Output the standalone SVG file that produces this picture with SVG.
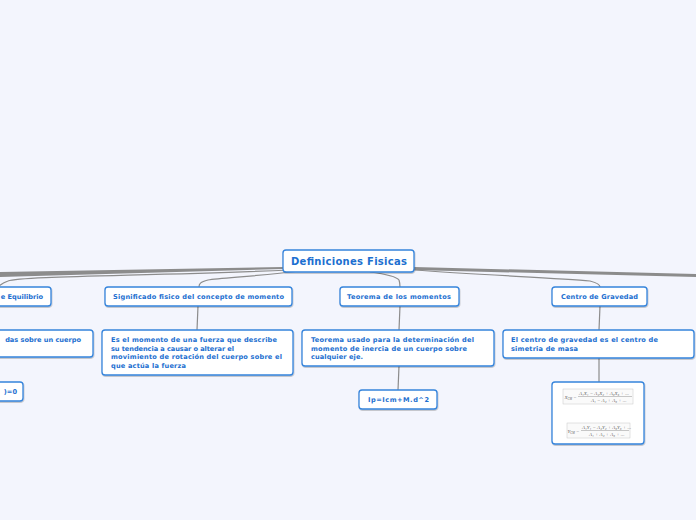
<svg xmlns="http://www.w3.org/2000/svg" width="696" height="520" viewBox="0 0 696 520">
<defs>
<filter id="sh" x="-10%" y="-10%" width="120%" height="140%"><feDropShadow dx="0.5" dy="1" stdDeviation="0.7" flood-color="#000" flood-opacity="0.25"/></filter>
<style>
.box{fill:#fff;stroke:#3584dc;stroke-width:1.3;filter:url(#sh)}
.t{font-family:"DejaVu Sans",Verdana,sans-serif;font-weight:bold;font-size:6.6px;fill:#1c6fd0}
.root{font-family:"DejaVu Sans",Verdana,sans-serif;font-weight:bold;font-size:10px;fill:#1c6fd0}
.c{fill:none;stroke:#8c8c8c;stroke-width:1.2}
.f{font-family:"Liberation Serif",serif;font-style:italic;font-size:5px;fill:#666}
.fb{fill:#fafafa;stroke:#c8c8c8;stroke-width:0.5}
</style>
</defs>
<rect width="696" height="520" fill="#f3f5fd"/>
<g id="connectors">
<path d="M283,267 L0,272 L0,277 L283,269 Z" fill="#8c8c8c"/>
<path d="M414,267 L696,274 L696,277 L414,270 Z" fill="#8c8c8c"/>
<path class="c" d="M290,270 C150,276 20,276 8,281 C2,283 0,285 -2,287"/>
<path class="c" d="M300,271 C260,276 220,278 208,280 C200,282 199,284 199,287"/>
<path class="c" d="M370,272 C385,274 396,276 399,280 C400,283 400,285 400,287"/>
<path class="c" d="M414,270 C480,275 560,278 590,281 C598,283 600,285 600,287"/>
<path class="c" d="M198,306 L197,330"/>
<path class="c" d="M400,306 L399,330"/>
<path class="c" d="M399,366 L398,390"/>
<path class="c" d="M600,306 L599,330"/>
<path class="c" d="M599,358 L599,382"/>
</g>
<g id="root">
<rect class="box" x="283" y="250" width="131" height="22" rx="3"/>
<text class="root" x="349" y="265" text-anchor="middle" textLength="116">Definiciones Fisicas</text>
</g>
<g id="n-equilibrio">
<rect class="box" x="-20" y="287" width="71" height="19" rx="3"/>
<text class="t" x="43" y="299" text-anchor="end">e Equilibrio</text>
</g>
<g id="n-significado">
<rect class="box" x="105" y="287" width="187" height="19" rx="3"/>
<text class="t" x="113" y="299" textLength="171">Significado fisico del concepto de momento</text>
</g>
<g id="n-teorema">
<rect class="box" x="340" y="287" width="119" height="19" rx="3"/>
<text class="t" x="347" y="299" textLength="104">Teorema de los momentos</text>
</g>
<g id="n-centro">
<rect class="box" x="552" y="287" width="95" height="19" rx="3"/>
<text class="t" x="561" y="299" textLength="77">Centro de Gravedad</text>
</g>
<g id="n-fuerzas">
<rect class="box" x="-20" y="330" width="113" height="27" rx="3"/>
<text class="t" x="81" y="342" text-anchor="end">das sobre un cuerpo</text>
</g>
<g id="n-es-el-momento">
<rect class="box" x="102" y="330" width="191" height="45" rx="3"/>
<text class="t" x="111" y="342" textLength="166">Es el momento de una fuerza que describe</text>
<text class="t" x="111" y="351" textLength="123">su tendencia a causar o alterar el</text>
<text class="t" x="111" y="359" textLength="171">movimiento de rotación del cuerpo sobre el</text>
<text class="t" x="111" y="368" textLength="75">que actúa la fuerza</text>
</g>
<g id="n-teorema-usado">
<rect class="box" x="302" y="330" width="192" height="36" rx="3"/>
<text class="t" x="311" y="342" textLength="163">Teorema usado para la determinación del</text>
<text class="t" x="311" y="351" textLength="156">momento de inercia de un cuerpo sobre</text>
<text class="t" x="311" y="359" textLength="52">cualquier eje.</text>
</g>
<g id="n-el-centro">
<rect class="box" x="503" y="330" width="191" height="28" rx="3"/>
<text class="t" x="511" y="342" textLength="147">El centro de gravedad es el centro de</text>
<text class="t" x="511" y="351" textLength="67">simetria de masa</text>
</g>
<g id="n-suma">
<rect class="box" x="-20" y="382" width="43" height="19" rx="3"/>
<text class="t" x="17" y="394" text-anchor="end">)=0</text>
</g>
<g id="n-ip">
<rect class="box" x="359" y="390" width="78" height="19" rx="3"/>
<text class="t" x="368" y="402" textLength="61">Ip=Icm+M.d^2</text>
</g>
<g id="n-formula">
<rect class="box" x="552" y="382" width="92" height="62" rx="3"/>
<rect class="fb" x="563" y="389" width="70" height="15"/>
<text class="f" x="564.5" y="398.5">X<tspan font-size="3" dy="1.2">CM</tspan><tspan dy="-1.2"> =</tspan></text>
<text class="f" x="579" y="395">A₁X₁ − A₂X₂ + A₃X₃ + ...</text>
<line x1="578" y1="396.5" x2="632" y2="396.5" stroke="#777" stroke-width="0.4"/>
<text class="f" x="591" y="402">A₁ − A₂ + A₃ + ...</text>
<rect class="fb" x="567" y="423" width="63" height="15"/>
<text class="f" x="567.5" y="432.5">Y<tspan font-size="3" dy="1.2">CM</tspan><tspan dy="-1.2"> =</tspan></text>
<text class="f" x="582" y="429">A₁Y₁ − A₂Y₂ + A₃Y₃ + ...</text>
<line x1="581" y1="430.5" x2="629" y2="430.5" stroke="#777" stroke-width="0.4"/>
<text class="f" x="589" y="436">A₁ + A₂ + A₃ + ...</text>
</g>
</svg>
